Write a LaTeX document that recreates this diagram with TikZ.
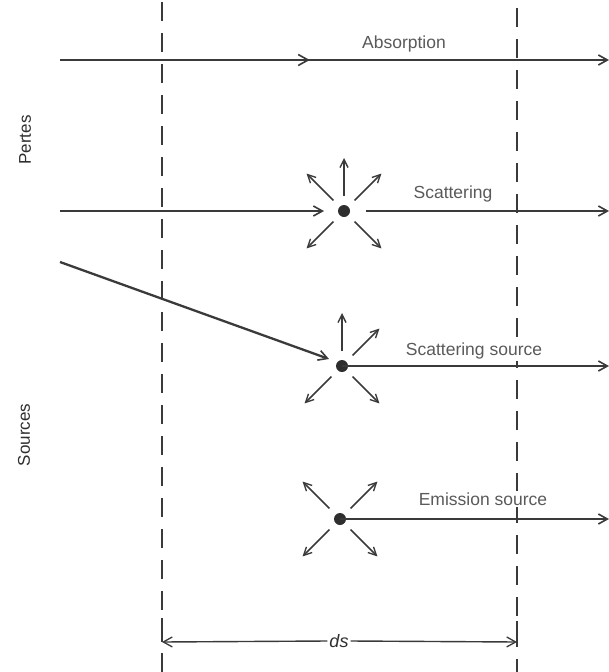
\documentclass[tikz,border=0pt]{standalone}
\usepackage{fontspec}
\setmainfont{Liberation Sans}
\usetikzlibrary{arrows.meta,decorations.markings}
\definecolor{ink}{HTML}{3A3A3A}
\definecolor{txt}{HTML}{5A5A5A}
\definecolor{dark}{HTML}{2E2E2E}
\begin{document}
\begin{tikzpicture}[x=1pt,y=-1pt,
  ray/.style={draw=ink,line width=1.7pt,-{Straight Barb[length=8pt,width=8pt,line width=1.4pt]}},
  beam/.style={draw=ink,line width=2.3pt,-{Straight Barb[length=9pt,width=10pt,line width=1.6pt]}},
  midarrow/.style={postaction={decorate},decoration={markings,mark=at position #1 with {\arrow{Straight Barb[length=10pt,width=11pt,line width=1.6pt]}}}},
  guide/.style={draw=ink,line width=1.6pt,dash pattern=on 19pt off 12pt},
  dot/.style={circle,fill=dark,inner sep=0pt,minimum size=12pt},
  lbl/.style={text=txt,fill=white,font=\fontsize{17.5}{20}\selectfont,inner sep=1.5pt},
  side/.style={text=dark,font=\fontsize{17}{20}\selectfont,inner sep=0pt,rotate=90},
  dim/.style={draw=ink,line width=1.4pt,-{Straight Barb[length=9pt,width=10pt,line width=1.3pt]}}]
\useasboundingbox (0,0) rectangle (609,672);
% dashed boundaries
\coordinate (gLt) at (162,2);
\coordinate (gLb) at (162,672);
\coordinate (gRt) at (517,8);
\coordinate (gRb) at (517,672);
\draw[guide] (gLt) -- (gLb);
\draw[guide] (gRt) -- (gRb);
% side labels
\node[side] (pertes) at (25,140) {Pertes};
\node[side] (sources) at (24,435) {Sources};
% absorption
\coordinate (a0) at (60,60);
\coordinate (a1) at (609,60);
\draw[beam,midarrow=0.455] (a0) -- (a1);
\node[lbl] (labs) at (404,44) {Absorption};
% scattering
\node[dot] (s1) at (344,211) {};
\coordinate (s0) at (60,211);
\coordinate (s0e) at (324,211);
\coordinate (s1o) at (366,211);
\coordinate (s1e) at (609,211);
\draw[beam] (s0) -- (s0e);
\draw[beam] (s1o) -- (s1e);
\node[lbl] (lsca) at (453,194) {Scattering};
\foreach \a in {-45,-90,-135,-225,-315}
  \draw[ray] (s1) ++(\a:15) -- ++(\a:38);
% scattering source
\node[dot] (s2) at (342,366) {};
\coordinate (t0) at (60,262);
\coordinate (t0e) at (329,359);
\coordinate (t1e) at (609,366);
\draw[beam] (t0) -- (t0e);
\draw[beam] (s2.center) -- (t1e);
\node[lbl] (lscs) at (474,351) {Scattering source};
\foreach \a in {-45,-90,-225,-315}
  \draw[ray] (s2) ++(\a:15) -- ++(\a:38);
% emission source
\node[dot] (s3) at (340,519) {};
\coordinate (e1e) at (609,519);
\draw[beam] (s3.center) -- (e1e);
\node[lbl] (lems) at (483,499) {Emission source};
\foreach \a in {-45,-135,-225,-315}
  \draw[ray] (s3) ++(\a:15) -- ++(\a:38);
% ds dimension
\coordinate (dl) at (162,642);
\coordinate (dr) at (517,642);
\coordinate (dlt) at (162,618);
\coordinate (drt) at (517,621);
\draw[draw=ink,line width=1.6pt] (dlt) -- (dl);
\draw[draw=ink,line width=1.6pt] (drt) -- (dr);
\node[text=dark,font=\fontsize{18}{20}\selectfont\itshape,inner sep=2pt] (ds) at (339,641) {ds};
\draw[dim] (ds.west) -- (dl);
\draw[dim] (ds.east) -- (dr);
\end{tikzpicture}
\end{document}
